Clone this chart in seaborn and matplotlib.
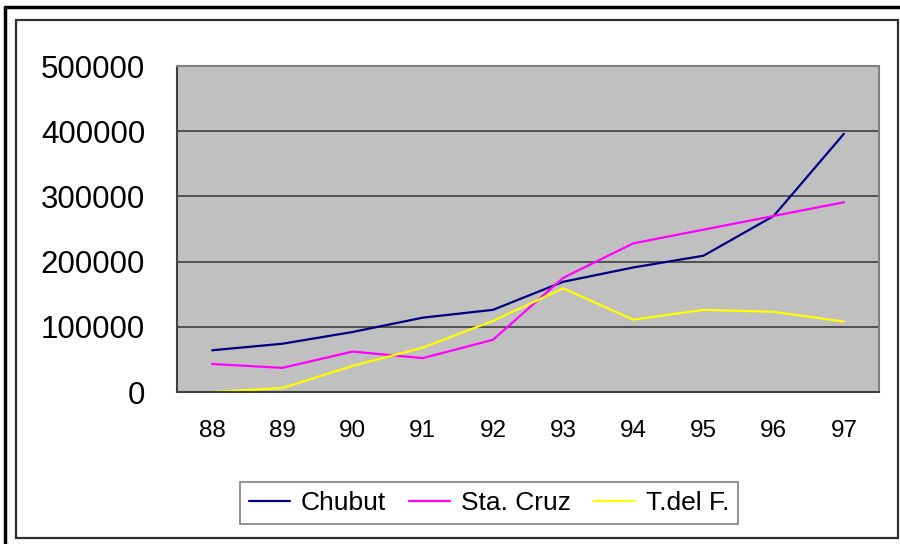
import pandas as pd
import matplotlib
matplotlib.use('Agg')
import matplotlib.pyplot as plt
from matplotlib.patches import Rectangle
from matplotlib.ticker import FixedLocator
import seaborn as sns

years = ['88', '89', '90', '91', '92', '93', '94', '95', '96', '97']
chubut = [64000, 74000, 92000, 114000, 126000, 169000, 191000, 209000, 270000, 396000]
sta_cruz = [43000, 37000, 62000, 52000, 80000, 175000, 228000, 249000, 270000, 291000]
tdelf = [0, 6000, 40000, 68000, 109000, 159000, 111000, 126000, 123000, 108000]
series = ['Chubut', 'Sta. Cruz', 'T.del F.']
colors = {'Chubut': '#000080', 'Sta. Cruz': '#FF00FF', 'T.del F.': '#FFFF00'}

df = pd.DataFrame({
    'pos': list(range(len(years))) * 3,
    'value': chubut + sta_cruz + tdelf,
    'serie': [s for s in series for _ in years],
})

sns.set_style('white')
plt.rcParams['font.family'] = ['Liberation Sans', 'DejaVu Sans']
plt.rcParams['text.color'] = 'black'
plt.rcParams['xtick.color'] = 'black'
plt.rcParams['ytick.color'] = 'black'

fig = plt.figure(figsize=(9, 5.44), dpi=100)
ax = fig.add_axes([177 / 900, 1 - 392 / 544, 702 / 900, 326 / 544])
ax.set_facecolor('#C0C0C0')

sns.lineplot(data=df, x='pos', y='value', hue='serie', palette=colors,
             linewidth=1.6, ax=ax)

ax.set_xlim(-0.5, 9.5)
ax.set_ylim(0, 500000)
ax.set_xticks(range(len(years)))
ax.set_xticklabels(years, fontsize=17.5)
ax.xaxis.set_minor_locator(FixedLocator([i - 0.5 for i in range(len(years) + 1)]))
ax.tick_params(axis='x', which='major', length=0, pad=20, labelcolor='black')
ax.tick_params(axis='x', which='minor', length=7, width=1.3, color='#404040', direction='out')
ax.set_yticks([0, 100000, 200000, 300000, 400000, 500000])
ax.set_yticklabels(['0', '100000', '200000', '300000', '400000', '500000'], fontsize=22.5)
ax.tick_params(axis='y', length=8, width=1.3, color='#404040', direction='out', pad=15,
               labelcolor='black')
ax.grid(axis='y', color='#505050', linewidth=1.4)
ax.set_axisbelow(True)
ax.set_xlabel('')
ax.set_ylabel('')
for side in ['top', 'right']:
    ax.spines[side].set_color('#808080')
    ax.spines[side].set_linewidth(1.5)
for side in ['left', 'bottom']:
    ax.spines[side].set_color('#404040')
    ax.spines[side].set_linewidth(1.5)

handles, labels = ax.get_legend_handles_labels()
ax.get_legend().remove()
leg = fig.legend(handles, labels, loc='center', bbox_to_anchor=(489 / 900, 1 - 503 / 544),
                 ncol=3, fontsize=19, frameon=True, fancybox=False, handlelength=1.55,
                 columnspacing=0.9, handletextpad=0.4, borderpad=0.35)
leg.get_frame().set_edgecolor('#606060')
leg.get_frame().set_linewidth(1.2)
for t in leg.get_texts():
    t.set_color('black')

# chart frames
fig.patches.append(Rectangle((16 / 900, 1 - 538 / 544), 882 / 900, 518 / 544,
                             transform=fig.transFigure, fill=False,
                             edgecolor='#303030', linewidth=1.6))
fig.add_artist(plt.Line2D([5 / 900, 5 / 900], [0, 1 - 7 / 544], color='black',
                          linewidth=2.5, transform=fig.transFigure))
fig.add_artist(plt.Line2D([5 / 900, 1], [1 - 7 / 544, 1 - 7 / 544], color='black',
                          linewidth=2.5, transform=fig.transFigure))

fig.savefig('out.png', dpi=100)
